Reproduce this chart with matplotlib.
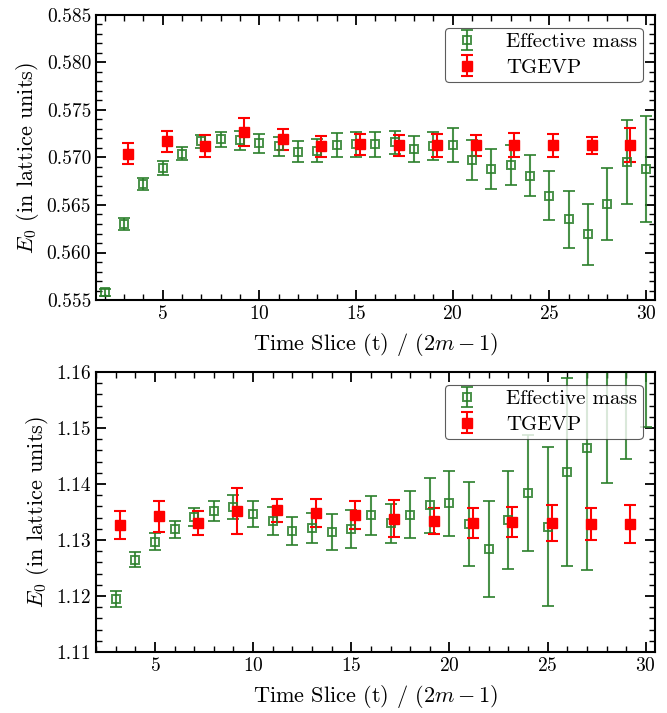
import matplotlib
matplotlib.use("Agg")
import matplotlib.pyplot as plt
import numpy as np
from matplotlib.ticker import MultipleLocator

plt.rcParams['font.family'] = 'serif'
plt.rcParams['font.serif'] = ['cmr10', 'DejaVu Serif']
plt.rcParams['mathtext.fontset'] = 'cm'
plt.rcParams['axes.formatter.use_mathtext'] = True

# ---- Top panel data ----
top_eff_t = list(range(2, 31))
top_eff_E = [0.5558, 0.5630, 0.5672, 0.5689, 0.5704, 0.5717, 0.5719, 0.5718, 0.5715,
             0.5712, 0.5706, 0.5707, 0.5713, 0.5714, 0.5714, 0.5716, 0.5709, 0.5712,
             0.5713, 0.5697, 0.5688, 0.5692, 0.5681, 0.5660, 0.5635, 0.5619, 0.5651,
             0.5695, 0.5688]
top_eff_err = [0.0004, 0.0006, 0.0006, 0.0007, 0.0007, 0.0007, 0.0008, 0.0010, 0.0010,
               0.0010, 0.0011, 0.0012, 0.0013, 0.0013, 0.0013, 0.0012, 0.0014, 0.0015,
               0.0018, 0.0021, 0.0021, 0.0021, 0.0022, 0.0026, 0.0030, 0.0032, 0.0038,
               0.0044, 0.0056]
top_tg_t = list(range(3, 30, 2))
top_tg_E = [0.5704, 0.5717, 0.5712, 0.5727, 0.5719, 0.5712, 0.5714, 0.5713, 0.5713,
            0.5713, 0.5713, 0.5713, 0.5713, 0.5713]
top_tg_err = [0.0011, 0.0011, 0.0012, 0.0015, 0.0011, 0.0011, 0.0011, 0.0011, 0.0012,
              0.0011, 0.0013, 0.0012, 0.0009, 0.0018]

# ---- Bottom panel data ----
bot_eff_t = list(range(3, 31))
bot_eff_E = [1.1195, 1.1265, 1.1297, 1.1319, 1.1341, 1.1352, 1.1359, 1.1346, 1.1334,
             1.1316, 1.1321, 1.1315, 1.1319, 1.1344, 1.1330, 1.1345, 1.1362, 1.1366,
             1.1328, 1.1284, 1.1336, 1.1384, 1.1324, 1.1422, 1.1465, 1.1650, 1.1700,
             1.1750]
bot_eff_err = [0.0014, 0.0014, 0.0015, 0.0015, 0.0016, 0.0018, 0.0022, 0.0023, 0.0025,
               0.0025, 0.0027, 0.0032, 0.0034, 0.0035, 0.0035, 0.0042, 0.0049, 0.0058,
               0.0075, 0.0086, 0.0087, 0.0103, 0.0142, 0.0168, 0.0219, 0.0249, 0.0256,
               0.0249]
bot_tg_t = list(range(3, 30, 2))
bot_tg_E = [1.1327, 1.1342, 1.1330, 1.1352, 1.1353, 1.1349, 1.1345, 1.1338, 1.1334,
            1.1330, 1.1332, 1.1331, 1.1329, 1.1329]
bot_tg_err = [0.0025, 0.0027, 0.0021, 0.0041, 0.0021, 0.0025, 0.0025, 0.0033, 0.0023,
              0.0027, 0.0027, 0.0032, 0.0029, 0.0034]

shift = 0.2
green = '#2a7f2a'

fig = plt.figure(figsize=(6.67, 7.13), dpi=100)
ax1 = fig.add_axes([96/667, 1 - 300/713, (655-96)/667, (300-15)/713])
ax2 = fig.add_axes([96/667, 1 - 652/713, (655-96)/667, (652-372)/713])

def draw(ax, et, eE, eerr, tt, tE, terr, xlim, ylim, ymaj, ymin):
    ax.errorbar(et, eE, yerr=eerr, fmt='s', mfc='none', mec=green, color=green,
                ms=6, mew=1.4, elinewidth=1.5, capsize=4, capthick=1.5, alpha=0.85,
                label='Effective mass')
    ax.errorbar(np.array(tt) + shift, tE, yerr=terr, fmt='s', color='red', mfc='red',
                mec='red', ms=6.5, elinewidth=1.5, capsize=4, capthick=1.5,
                label='TGEVP')
    ax.set_xlim(*xlim)
    ax.set_ylim(*ylim)
    ax.xaxis.set_major_locator(MultipleLocator(5))
    ax.xaxis.set_minor_locator(MultipleLocator(1))
    ax.yaxis.set_major_locator(MultipleLocator(ymaj))
    ax.yaxis.set_minor_locator(MultipleLocator(ymin))
    ax.tick_params(which='both', direction='in', top=True, right=True, labelsize=14)
    ax.tick_params(which='major', length=7, width=1.3)
    ax.tick_params(which='minor', length=4, width=1.0)
    for s in ax.spines.values():
        s.set_linewidth(1.5)
    ax.set_xlabel(r'Time Slice (t) / $(2m-1)$', fontsize=16, labelpad=6)
    ax.set_ylabel(r'$E_0$ (in lattice units)', fontsize=16)
    leg = ax.legend(loc='upper right', fontsize=15, framealpha=0.8, edgecolor='#333333',
                    fancybox=True, borderaxespad=0.6, handlelength=1.6,
                    handletextpad=1.1, borderpad=0.25, labelspacing=0.35)
    leg.get_frame().set_linewidth(0.8)

draw(ax1, top_eff_t, top_eff_E, top_eff_err, top_tg_t, top_tg_E, top_tg_err,
     (1.55, 30.47), (0.555, 0.585), 0.005, 0.001)
ax1.yaxis.set_major_formatter(matplotlib.ticker.FormatStrFormatter('%.3f'))
draw(ax2, bot_eff_t, bot_eff_E, bot_eff_err, bot_tg_t, bot_tg_E, bot_tg_err,
     (2.0, 30.47), (1.11, 1.16), 0.01, 0.002)
ax2.yaxis.set_major_formatter(matplotlib.ticker.FormatStrFormatter('%.2f'))

fig.savefig('out.png', dpi=100)
